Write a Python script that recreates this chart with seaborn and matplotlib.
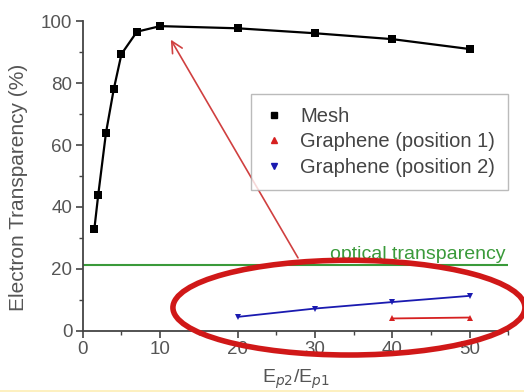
import matplotlib
matplotlib.use("Agg")
import matplotlib.pyplot as plt
import seaborn as sns
import pandas as pd
from matplotlib.lines import Line2D
from matplotlib.patches import Ellipse, Rectangle, FancyArrowPatch
from matplotlib.ticker import MultipleLocator

sns.set_style("ticks")
plt.rcParams['font.family'] = ['Liberation Sans', 'DejaVu Sans']

mesh_x = [1.5, 2, 3, 4, 5, 7, 10, 20, 30, 40, 50]
mesh_y = [33, 44, 64, 78, 89.4, 96.6, 98.4, 97.7, 96.1, 94.2, 91.0]
g1_x = [40, 50]
g1_y = [4.0, 4.3]
g2_x = [20, 30, 40, 50]
g2_y = [4.5, 7.2, 9.3, 11.3]
optical = 21.3

labels = ["Mesh", "Graphene (position 1)", "Graphene (position 2)"]
colors = ["black", "#d62020", "#1a1ab0"]
markers = ["s", "^", "v"]

txt = "#555555"
fig = plt.figure(figsize=(5.24, 3.92), dpi=100)
ax = fig.add_axes([0.158, 0.156, 0.812, 0.79])

df_m = pd.DataFrame({"x": mesh_x, "y": mesh_y})
df_1 = pd.DataFrame({"x": g1_x, "y": g1_y})
df_2 = pd.DataFrame({"x": g2_x, "y": g2_y})
sns.lineplot(data=df_m, x="x", y="y", ax=ax, color=colors[0], marker="s",
             markersize=5.5, linewidth=1.6, markeredgewidth=0)
sns.lineplot(data=df_1, x="x", y="y", ax=ax, color=colors[1], marker="^",
             markersize=5, linewidth=1.3, markeredgewidth=0)
sns.lineplot(data=df_2, x="x", y="y", ax=ax, color=colors[2], marker="v",
             markersize=5, linewidth=1.3, markeredgewidth=0)

ax.axhline(optical, color="#3a9a3a", linewidth=1.5, zorder=1)
ax.text(54.7, optical + 0.6, "optical transparency", color="#3a9a3a",
        ha="right", va="bottom", fontsize=14)

ax.set_xlim(0, 55)
ax.set_ylim(0, 100)
ax.xaxis.set_major_locator(MultipleLocator(10))
ax.xaxis.set_minor_locator(MultipleLocator(5))
ax.yaxis.set_major_locator(MultipleLocator(20))
ax.yaxis.set_minor_locator(MultipleLocator(10))
for s in ["top", "right"]:
    ax.spines[s].set_visible(False)
for s in ["left", "bottom"]:
    ax.spines[s].set_color("#444444")
    ax.spines[s].set_linewidth(1.3)
ax.tick_params(axis="both", which="major", direction="out", length=5,
               width=1.2, color="#444444", labelcolor=txt, labelsize=13.5,
               pad=2.5)
ax.tick_params(axis="both", which="minor", direction="out", length=3,
               width=1.0, color="#444444")

ax.set_ylabel("Electron Transparency (%)", color=txt, fontsize=15)
ax.yaxis.set_label_coords(-0.128, 0.463)
ax.set_xlabel("E$_{p2}$/E$_{p1}$", color=txt, fontsize=14)
ax.xaxis.set_label_coords(0.5, -0.118)
ax.xaxis.label.set_va("top")

handles = [Line2D([], [], linestyle="none", marker=m, color=c, markersize=5)
           for m, c in zip(markers, colors)]
leg = ax.legend(handles, labels, loc="upper right", bbox_to_anchor=(1.0, 0.765),
                frameon=True, fontsize=14.5, handletextpad=0.8, borderpad=0.65,
                labelspacing=0.32, handlelength=1.0, fancybox=False,
                borderaxespad=0)
leg.get_frame().set_edgecolor("#aaaaaa")
leg.get_frame().set_linewidth(1.0)
for t in leg.get_texts():
    t.set_color("#444444")

ell = Ellipse((34.4, 7.5), 45.5, 30.6, fill=False, edgecolor="#d01818",
              linewidth=4, clip_on=False, zorder=5)
ax.add_patch(ell)
arr = FancyArrowPatch((28.0, 22.8), (11.2, 94.8), arrowstyle="->,head_length=8,head_width=4",
                      color="#d04040", linewidth=1.2, clip_on=False, zorder=4)
ax.add_patch(arr)

fig.patches.append(Rectangle((0, 0), 1, 0.006, transform=fig.transFigure,
                             facecolor="#fdf0c0", edgecolor="none"))

fig.savefig("out.png", dpi=100)
